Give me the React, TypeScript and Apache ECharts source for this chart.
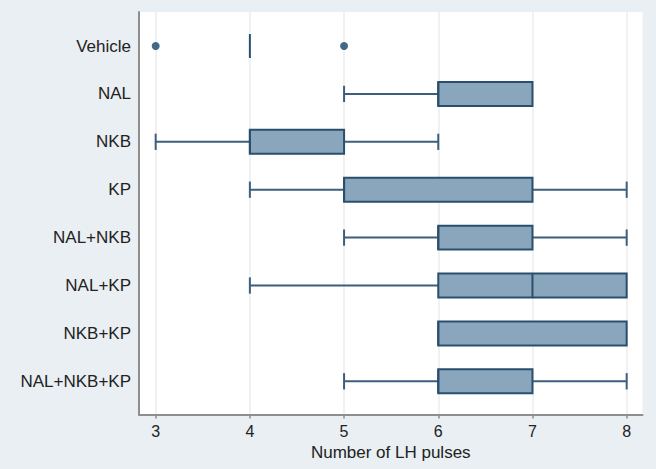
import React, { useEffect, useRef } from "react";
import * as echarts from "echarts";

const categories = ["Vehicle", "NAL", "NKB", "KP", "NAL+NKB", "NAL+KP", "NKB+KP", "NAL+NKB+KP"];
// [min, q1, median, q3, max]
const boxStats: number[][] = [
  [4, 4, 4, 4, 4],
  [5, 6, 6, 7, 7],
  [3, 4, 4, 5, 6],
  [4, 5, 5, 7, 8],
  [5, 6, 6, 7, 8],
  [4, 6, 7, 8, 8],
  [6, 6, 6, 8, 8],
  [5, 6, 6, 7, 8],
];
// [category index, value]
const outliers: number[][] = [
  [0, 3],
  [0, 5],
];
const xTicks = [3, 4, 5, 6, 7, 8];
const xTitle = "Number of LH pulses";

const BOX_FILL = "#8aa6bc";
const BOX_STROKE = "#2a4f6e";
const WHISKER = "#3b5f7c";

export default function App() {
  const ref = useRef<HTMLDivElement>(null);
  useEffect(() => {
    if (!ref.current) return;
    const chart = echarts.init(ref.current, undefined, { renderer: "svg" });
    const boxData = boxStats.map((s, i) => [i, ...s]);
    const option: any = {
      animation: false,
      backgroundColor: "#e9eff2",
      grid: {
        left: 139,
        right: 13.5,
        top: 12,
        bottom: 54.5,
        show: true,
        backgroundColor: "#ffffff",
        borderWidth: 0,
      },
      xAxis: {
        type: "value",
        min: 2.823,
        max: 8.168,
        name: xTitle,
        nameLocation: "middle",
        nameGap: 29,
        nameTextStyle: { fontFamily: "Liberation Sans, Arial, sans-serif", fontSize: 17, color: "#222" },
        axisLine: { show: true, onZero: false, lineStyle: { color: "#8e8e8e", width: 2 } },
        axisTick: { show: true, length: 4, customValues: xTicks, lineStyle: { color: "#8e8e8e", width: 1.5 } },
        axisLabel: {
          customValues: xTicks,
          margin: 9,
          fontFamily: "Liberation Sans, Arial, sans-serif",
          fontSize: 16,
          color: "#222",
        },
        splitLine: { show: true, lineStyle: { color: "#ececec", width: 1.5 } },
      },
      yAxis: {
        type: "value",
        inverse: true,
        min: -0.71,
        max: 7.693,
        axisLine: { show: true, onZero: false, lineStyle: { color: "#8e8e8e", width: 2 } },
        axisTick: { show: false },
        splitLine: { show: false },
        axisLabel: {
          customValues: categories.map((_, i) => i),
          formatter: (v: number) => categories[Math.round(v)] ?? "",
          margin: 8,
          fontFamily: "Liberation Sans, Arial, sans-serif",
          fontSize: 17,
          color: "#222",
        },
      },
      series: [
        {
          type: "custom",
          data: boxData,
          encode: { x: [1, 2, 3, 4, 5], y: 0 },
          renderItem: (params: any, api: any) => {
            const y = api.value(0);
            const mn = api.value(1);
            const q1 = api.value(2);
            const md = api.value(3);
            const q3 = api.value(4);
            const mx = api.value(5);
            const unit = Math.abs(api.size([0, 1])[1]);
            const bh = unit * 0.5;
            const ch = unit * 0.34;
            const pMin = api.coord([mn, y]);
            const pQ1 = api.coord([q1, y]);
            const pMd = api.coord([md, y]);
            const pQ3 = api.coord([q3, y]);
            const pMax = api.coord([mx, y]);
            const cy = pMin[1];
            const children: any[] = [];
            const wStyle = { stroke: WHISKER, lineWidth: 2 };
            if (mn < q1) {
              children.push({ type: "line", shape: { x1: pMin[0], y1: cy, x2: pQ1[0], y2: cy }, style: wStyle });
              children.push({ type: "line", shape: { x1: pMin[0], y1: cy - ch / 2, x2: pMin[0], y2: cy + ch / 2 }, style: wStyle });
            }
            if (mx > q3) {
              children.push({ type: "line", shape: { x1: pQ3[0], y1: cy, x2: pMax[0], y2: cy }, style: wStyle });
              children.push({ type: "line", shape: { x1: pMax[0], y1: cy - ch / 2, x2: pMax[0], y2: cy + ch / 2 }, style: wStyle });
            }
            if (q3 > q1) {
              children.push({
                type: "rect",
                shape: { x: pQ1[0], y: cy - bh / 2, width: pQ3[0] - pQ1[0], height: bh },
                style: { fill: BOX_FILL, stroke: BOX_STROKE, lineWidth: 2 },
              });
            }
            children.push({
              type: "line",
              shape: { x1: pMd[0], y1: cy - bh / 2, x2: pMd[0], y2: cy + bh / 2 },
              style: { stroke: BOX_STROKE, lineWidth: 2 },
            });
            return { type: "group", children };
          },
        },
        {
          type: "scatter",
          data: outliers.map(([c, v]) => [v, c]),
          symbol: "circle",
          symbolSize: 8,
          itemStyle: { color: "#15436c" },
        },
      ],
    };
    chart.setOption(option);
    return () => chart.dispose();
  }, []);
  return <div ref={ref} style={{ width: 656, height: 469, position: "absolute", left: 0, top: 0 }} />;
}
